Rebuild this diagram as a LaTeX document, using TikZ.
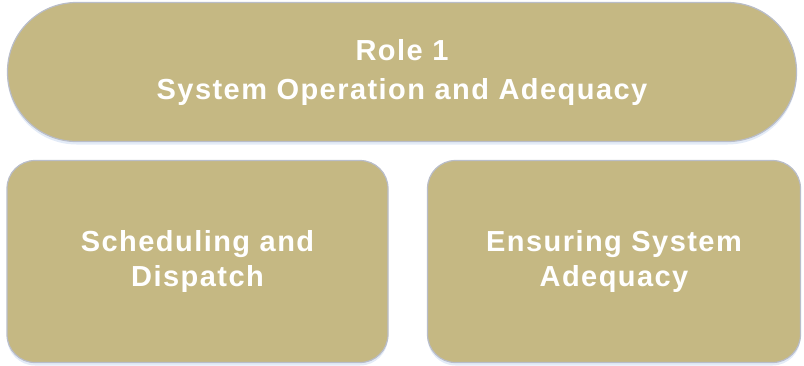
\documentclass[tikz,border=0pt]{standalone}
\usepackage{fontspec}
\setmainfont{Liberation Sans}[LetterSpace=5]
\usetikzlibrary{shadows}
\definecolor{tan}{HTML}{C5B883}
\definecolor{edge}{HTML}{B9BDC9}
\definecolor{glow}{HTML}{C8D8F0}
\begin{document}
\begin{tikzpicture}[x=1pt,y=-1pt,
  box/.style={draw=edge, line width=1.2pt, fill=tan, inner sep=0pt,
    text=white, align=center,
    font=\fontsize{29}{35}\selectfont\bfseries,
    drop shadow={shadow xshift=0pt, shadow yshift=-3pt, opacity=0.5, fill=glow}},
]
\useasboundingbox (0,0) rectangle (804,365);
\node[box, rounded corners=69pt, minimum width=789pt, minimum height=139pt,
  font=\fontsize{29}{39}\selectfont\bfseries] (role) at (402,72)
  {Role 1\\System Operation and Adequacy};
\node[box, rounded corners=28pt, minimum width=381pt, minimum height=202pt] (sched) at (197.5,261.5)
  {Scheduling and\\Dispatch};
\node[box, rounded corners=28pt, minimum width=373pt, minimum height=202pt] (ensure) at (614,261.5)
  {Ensuring System\\Adequacy};
\end{tikzpicture}
\end{document}
